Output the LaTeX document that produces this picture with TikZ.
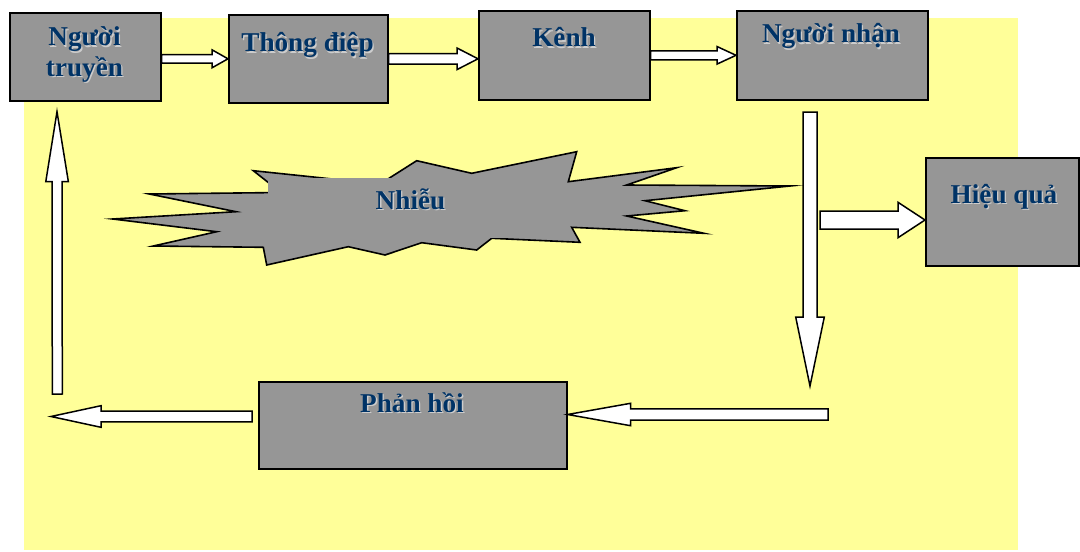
\documentclass[tikz,border=0pt]{standalone}
\usepackage{fontspec}
\setmainfont{Liberation Serif}
\usetikzlibrary{calc}

\definecolor{paper}{RGB}{255,255,153}
\definecolor{boxgray}{RGB}{150,150,150}
\definecolor{navy}{RGB}{0,51,102}
\definecolor{shade}{RGB}{205,205,205}

\tikzset{
  box/.style={draw=black, line width=1.6pt, fill=boxgray, inner sep=0pt, anchor=north west},
  lbl/.style={anchor=base, inner sep=0pt, align=center, text=navy,
    font=\fontsize{27.2}{30.3}\selectfont\bfseries},
  lblshade/.style={lbl, text=shade},
  blockarrow/.style={draw=black, line width=1.5pt, fill=white, line join=miter},
  noise/.style={draw=black, line width=1.6pt, fill=boxgray, line join=miter, miter limit=20},
}

% block arrow: from, to, shaft half-width, head half-width, head length
\newcommand\blockarrow[5]{%
  \coordinate (bahead) at ($(#2)!#5!(#1)$);
  \draw[blockarrow] ($(#1)!#3!90:(#2)$) -- ($(bahead)!#3!90:(#2)$)
    -- ($(bahead)!#4!90:(#2)$) -- (#2) -- ($(bahead)!#4!-90:(#2)$)
    -- ($(bahead)!#3!-90:(#2)$) -- ($(#1)!#3!-90:(#2)$) -- cycle;
}
% label with a light drop shade
\newcommand\shadedlabel[3]{%
  \node[lblshade] at ($(#2)+(1.3,1.3)$) {#3};
  \node[lbl] (#1) at (#2) {#3};
}

\begin{document}
\begin{tikzpicture}[x=1pt, y=-1pt]
\useasboundingbox (0,0) rectangle (1080,552);
\fill[white] (0,0) rectangle (1080,552);
\fill[paper] (24,18) rectangle (1018,550);

% boxes
\node[box, minimum width=151pt, minimum height=88pt] (truyen) at (9,12) {};
\node[box, minimum width=159pt, minimum height=88pt] (thong) at (228,14) {};
\node[box, minimum width=171pt, minimum height=89pt] (kenh) at (478,10) {};
\node[box, minimum width=191pt, minimum height=89pt] (nhan) at (736,10) {};
\node[box, minimum width=153pt, minimum height=108pt] (hieu) at (925,157) {};
\node[box, minimum width=308pt, minimum height=87pt] (phan) at (258,381) {};

% noise burst
\draw[noise] (112.7,219) -- (236,211.7) -- (149.3,194) -- (281,192.5) -- (253.3,170.7)
  -- (380,184) -- (416.7,160.7) -- (471.7,173.3) -- (576.7,151.7) -- (568.3,181.7)
  -- (676.7,167.7) -- (626.7,185) -- (790,186) -- (645,200.7) -- (685,210.7)
  -- (626.7,216) -- (704,233.3) -- (571.7,227.3) -- (580,242.3) -- (491.7,238.3)
  -- (476.7,250) -- (421.7,242.7) -- (385,255) -- (348.3,246.7) -- (266.7,265)
  -- (263.3,247.3) -- (153.3,246) -- (216.7,231.7) -- cycle;
\fill[boxgray] (268.3,178.3) rectangle (552,238);

% free ends of connectors
\coordinate (dn-s) at (810,112);
\coordinate (dn-e) at (810,386);
\coordinate (ef-s) at (820,220);
\coordinate (fb-s) at (828,414.5);
\coordinate (fb-e) at (51,416.5);
\coordinate (up-s) at (57.3,394);
\coordinate (up-e) at (57,111.7);

% connectors
\blockarrow{truyen.east |- thong.west}{thong.west}{4.2pt}{9pt}{16pt}
\blockarrow{thong.east}{kenh.west |- thong.east}{5.2pt}{10.8pt}{21pt}
\blockarrow{kenh.east}{nhan.west}{4.5pt}{8.8pt}{19pt}
\blockarrow{dn-s}{dn-e}{7pt}{14.3pt}{69pt}
\blockarrow{ef-s}{hieu.west |- ef-s}{9pt}{17.7pt}{27pt}
\blockarrow{fb-s}{phan.east |- fb-s}{5.7pt}{11.2pt}{63pt}
\blockarrow{$(phan.west |- fb-e)+(-6,0)$}{fb-e}{5.3pt}{10.8pt}{50pt}
\blockarrow{up-s}{up-e}{5pt}{11.3pt}{70pt}

% labels
\shadedlabel{truyen-t}{84.5,76}{Người\\truyền}
\shadedlabel{thong-t}{307.5,51.7}{Thông điệp}
\shadedlabel{kenh-t}{564,46.7}{Kênh}
\shadedlabel{nhan-t}{831,42.7}{Người nhận}
\shadedlabel{hieu-t}{1004,203.3}{Hiệu quả}
\shadedlabel{phan-t}{412,412.3}{Phản hồi}
\shadedlabel{nhieu}{410.5,209.3}{Nhiễu}
\end{tikzpicture}
\end{document}
